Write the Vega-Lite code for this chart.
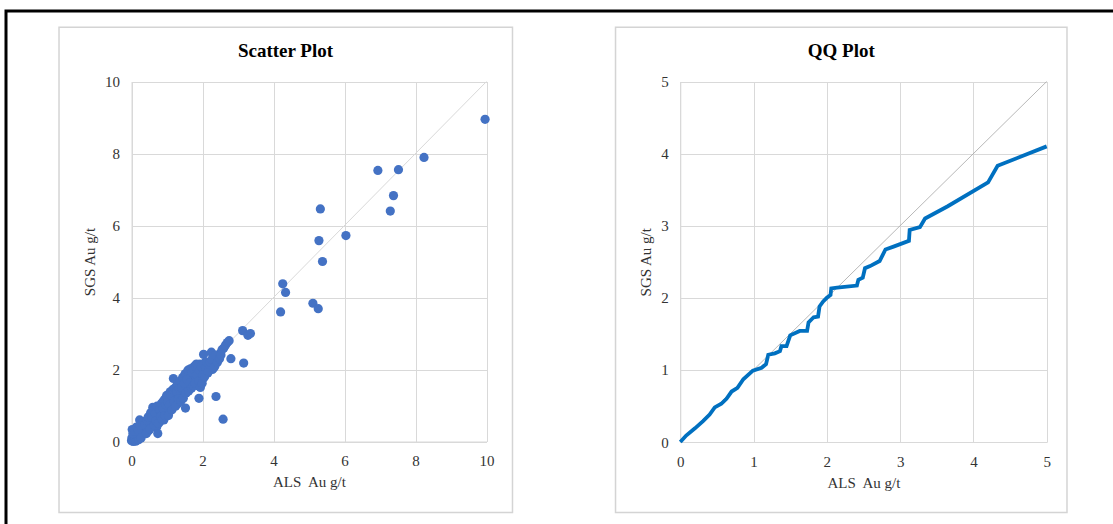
{
  "$schema": "https://vega.github.io/schema/vega-lite/v6.json",
  "width": 1107,
  "height": 513,
  "autosize": "none",
  "padding": {"left": 6, "top": 11, "right": 0, "bottom": 0},
  "background": "white",
  "config": {
    "view": {"stroke": "#000000", "strokeWidth": 3, "strokeDash": [1107, 1620, 513]},
    "axis": {
      "grid": true, "gridColor": "#d9d9d9", "gridWidth": 1,
      "domainColor": "#d9d9d9", "domainWidth": 1, "ticks": false,
      "labelFont": "Liberation Serif", "labelFontSize": 15, "labelColor": "#333333", "labelFlush": false,
      "titleFont": "Liberation Serif", "titleFontSize": 15, "titleFontWeight": "normal", "titleColor": "#333333"
    },
    "axisX": {"labelPadding": 12, "titlePadding": 6},
    "axisY": {"labelPadding": 12, "titlePadding": 7}
  },
  "datasets": {
    "scatter": [
      {"als":0.00,"sgs":0.02},{"als":0.01,"sgs":0.10},{"als":0.02,"sgs":0.33},{"als":0.03,"sgs":0.05},{"als":0.05,"sgs":0.00},
      {"als":0.06,"sgs":0.18},{"als":0.08,"sgs":0.03},{"als":0.10,"sgs":0.12},{"als":0.12,"sgs":0.01},{"als":0.13,"sgs":0.25},
      {"als":0.15,"sgs":0.08},{"als":0.17,"sgs":0.30},{"als":0.18,"sgs":0.15},{"als":0.20,"sgs":0.05},{"als":0.22,"sgs":0.22},
      {"als":0.23,"sgs":0.60},{"als":0.25,"sgs":0.35},{"als":0.26,"sgs":0.12},{"als":0.28,"sgs":0.28},{"als":0.30,"sgs":0.45},
      {"als":0.31,"sgs":0.20},{"als":0.33,"sgs":0.38},{"als":0.35,"sgs":0.52},{"als":0.36,"sgs":0.30},{"als":0.38,"sgs":0.25},
      {"als":0.40,"sgs":0.42},{"als":0.41,"sgs":0.55},{"als":0.43,"sgs":0.35},{"als":0.45,"sgs":0.62},{"als":0.46,"sgs":0.48},
      {"als":0.48,"sgs":0.30},{"als":0.50,"sgs":0.70},{"als":0.51,"sgs":0.52},{"als":0.53,"sgs":0.42},{"als":0.55,"sgs":0.60},
      {"als":0.56,"sgs":0.75},{"als":0.58,"sgs":0.50},{"als":0.60,"sgs":0.95},{"als":0.61,"sgs":0.66},{"als":0.63,"sgs":0.55},
      {"als":0.65,"sgs":0.80},{"als":0.66,"sgs":0.62},{"als":0.68,"sgs":0.95},{"als":0.70,"sgs":0.72},{"als":0.71,"sgs":0.40},
      {"als":0.73,"sgs":0.85},{"als":0.74,"sgs":0.22},{"als":0.75,"sgs":0.65},{"als":0.77,"sgs":0.92},{"als":0.78,"sgs":0.78},
      {"als":0.80,"sgs":0.55},{"als":0.81,"sgs":1.00},{"als":0.83,"sgs":0.84},{"als":0.85,"sgs":0.70},{"als":0.86,"sgs":0.95},
      {"als":0.88,"sgs":1.10},{"als":0.90,"sgs":0.80},{"als":0.91,"sgs":0.60},{"als":0.93,"sgs":1.05},{"als":0.95,"sgs":0.88},
      {"als":0.96,"sgs":1.20},{"als":0.98,"sgs":0.75},{"als":1.00,"sgs":1.00},{"als":1.01,"sgs":1.25},{"als":1.03,"sgs":0.90},
      {"als":1.05,"sgs":1.12},{"als":1.06,"sgs":0.82},{"als":1.08,"sgs":1.30},{"als":1.10,"sgs":1.00},{"als":1.11,"sgs":1.18},
      {"als":1.13,"sgs":0.95},{"als":1.15,"sgs":1.40},{"als":1.16,"sgs":1.08},{"als":1.18,"sgs":1.75},{"als":1.19,"sgs":1.22},
      {"als":1.21,"sgs":1.02},{"als":1.23,"sgs":1.35},{"als":1.25,"sgs":1.15},{"als":1.26,"sgs":1.50},{"als":1.28,"sgs":1.25},
      {"als":1.30,"sgs":1.05},{"als":1.31,"sgs":1.42},{"als":1.33,"sgs":1.30},{"als":1.35,"sgs":1.20},{"als":1.36,"sgs":1.55},
      {"als":1.38,"sgs":1.38},{"als":1.40,"sgs":1.25},{"als":1.42,"sgs":1.60},{"als":1.43,"sgs":1.45},{"als":1.45,"sgs":1.30},
      {"als":1.47,"sgs":1.70},{"als":1.48,"sgs":1.50},{"als":1.50,"sgs":1.38},{"als":1.52,"sgs":0.93},{"als":1.53,"sgs":1.80},
      {"als":1.55,"sgs":1.60},{"als":1.57,"sgs":1.45},{"als":1.58,"sgs":1.85},{"als":1.60,"sgs":1.68},{"als":1.62,"sgs":1.52},
      {"als":1.63,"sgs":1.90},{"als":1.65,"sgs":1.75},{"als":1.67,"sgs":1.58},{"als":1.68,"sgs":1.95},{"als":1.70,"sgs":1.80},
      {"als":1.72,"sgs":1.60},{"als":1.73,"sgs":2.05},{"als":1.75,"sgs":1.85},{"als":1.77,"sgs":1.70},{"als":1.78,"sgs":2.10},
      {"als":1.80,"sgs":1.90},{"als":1.82,"sgs":1.75},{"als":1.83,"sgs":2.15},{"als":1.85,"sgs":1.95},{"als":1.87,"sgs":1.55},
      {"als":1.88,"sgs":2.05},{"als":1.90,"sgs":1.20},{"als":1.91,"sgs":1.85},{"als":1.93,"sgs":2.15},{"als":1.95,"sgs":1.70},
      {"als":1.96,"sgs":2.00},{"als":1.98,"sgs":1.90},{"als":2.00,"sgs":2.10},{"als":2.02,"sgs":1.75},{"als":2.03,"sgs":2.42},
      {"als":2.05,"sgs":2.00},{"als":2.08,"sgs":2.20},{"als":2.10,"sgs":1.95},{"als":2.13,"sgs":2.10},{"als":2.15,"sgs":1.90},
      {"als":2.20,"sgs":2.05},{"als":2.25,"sgs":2.48},{"als":2.28,"sgs":2.00},{"als":2.30,"sgs":2.20},{"als":2.35,"sgs":2.10},
      {"als":2.38,"sgs":1.25},{"als":2.40,"sgs":2.30},{"als":2.45,"sgs":2.35},{"als":2.50,"sgs":2.45},{"als":2.55,"sgs":2.55},
      {"als":2.58,"sgs":0.62},{"als":2.60,"sgs":2.60},{"als":2.65,"sgs":2.68},{"als":2.70,"sgs":2.75},{"als":2.75,"sgs":2.80},
      {"als":2.80,"sgs":2.30},{"als":3.13,"sgs":3.08},{"als":3.16,"sgs":2.18},{"als":3.28,"sgs":2.95},{"als":3.35,"sgs":3.00},
      {"als":4.20,"sgs":3.60},{"als":4.26,"sgs":4.38},{"als":4.34,"sgs":4.14},{"als":5.11,"sgs":3.84},{"als":5.26,"sgs":3.69},
      {"als":5.28,"sgs":5.58},{"als":5.32,"sgs":6.46},{"als":5.38,"sgs":5.00},{"als":6.04,"sgs":5.72},{"als":6.94,"sgs":7.53},
      {"als":7.29,"sgs":6.40},{"als":7.38,"sgs":6.83},{"als":7.52,"sgs":7.55},{"als":8.24,"sgs":7.89},{"als":9.96,"sgs":8.95},
      {"als":0.04,"sgs":0.22},{"als":0.09,"sgs":0.28},{"als":0.14,"sgs":0.40},{"als":0.19,"sgs":0.32},{"als":0.24,"sgs":0.45},
      {"als":0.27,"sgs":0.10},{"als":0.32,"sgs":0.55},{"als":0.37,"sgs":0.48},{"als":0.42,"sgs":0.22},{"als":0.44,"sgs":0.58},
      {"als":0.47,"sgs":0.68},{"als":0.52,"sgs":0.35},{"als":0.54,"sgs":0.80},{"als":0.57,"sgs":0.68},{"als":0.62,"sgs":0.85},
      {"als":0.64,"sgs":0.45},{"als":0.67,"sgs":0.78},{"als":0.69,"sgs":0.58},{"als":0.72,"sgs":0.98},{"als":0.76,"sgs":0.50},
      {"als":0.79,"sgs":0.88},{"als":0.82,"sgs":0.70},{"als":0.84,"sgs":1.05},{"als":0.87,"sgs":0.62},{"als":0.89,"sgs":0.92},
      {"als":0.92,"sgs":1.15},{"als":0.94,"sgs":0.72},{"als":0.97,"sgs":1.02},{"als":0.99,"sgs":1.28},{"als":1.02,"sgs":1.10},
      {"als":1.04,"sgs":0.72},{"als":1.07,"sgs":1.02},{"als":1.09,"sgs":1.38},{"als":1.12,"sgs":1.28},{"als":1.14,"sgs":0.88},
      {"als":1.17,"sgs":1.45},{"als":1.20,"sgs":1.12},{"als":1.22,"sgs":1.48},{"als":1.24,"sgs":0.98},{"als":1.27,"sgs":1.38},
      {"als":1.29,"sgs":1.60},{"als":1.32,"sgs":1.18},{"als":1.34,"sgs":1.48},{"als":1.37,"sgs":1.68},{"als":1.39,"sgs":1.12},
      {"als":1.41,"sgs":1.50},{"als":1.44,"sgs":1.78},{"als":1.46,"sgs":1.20},{"als":1.49,"sgs":1.62},{"als":1.51,"sgs":1.88},
      {"als":1.54,"sgs":1.35},{"als":1.56,"sgs":1.72},{"als":1.59,"sgs":1.98},{"als":1.61,"sgs":1.40},{"als":1.64,"sgs":1.62},
      {"als":1.66,"sgs":2.02},{"als":1.69,"sgs":1.48},{"als":1.71,"sgs":1.92},{"als":1.74,"sgs":1.55},{"als":1.76,"sgs":2.00},
      {"als":1.79,"sgs":1.62},{"als":1.81,"sgs":2.08},{"als":1.84,"sgs":1.85},{"als":1.86,"sgs":2.12},{"als":1.89,"sgs":1.68},
      {"als":1.92,"sgs":1.98},{"als":1.94,"sgs":1.50},{"als":1.97,"sgs":2.08},{"als":1.99,"sgs":1.62},{"als":2.01,"sgs":1.85},
      {"als":2.04,"sgs":2.15},{"als":2.06,"sgs":1.80},{"als":2.09,"sgs":2.05},{"als":2.12,"sgs":2.20},{"als":2.16,"sgs":1.95},
      {"als":2.18,"sgs":2.15},{"als":2.22,"sgs":2.20},{"als":2.26,"sgs":2.28},{"als":2.32,"sgs":2.05},{"als":2.36,"sgs":2.40},
      {"als":2.42,"sgs":2.20},{"als":2.48,"sgs":2.30},{"als":2.52,"sgs":2.40}
    ],
    "qq": [
      {"als":0.00,"sgs":0.00},{"als":0.08,"sgs":0.09},{"als":0.20,"sgs":0.19},{"als":0.31,"sgs":0.29},{"als":0.40,"sgs":0.38},
      {"als":0.47,"sgs":0.48},{"als":0.56,"sgs":0.53},{"als":0.63,"sgs":0.60},{"als":0.70,"sgs":0.70},{"als":0.78,"sgs":0.75},
      {"als":0.86,"sgs":0.87},{"als":0.99,"sgs":0.99},{"als":1.11,"sgs":1.03},{"als":1.17,"sgs":1.08},{"als":1.20,"sgs":1.21},
      {"als":1.29,"sgs":1.23},{"als":1.36,"sgs":1.26},{"als":1.38,"sgs":1.33},{"als":1.45,"sgs":1.33},{"als":1.50,"sgs":1.48},
      {"als":1.63,"sgs":1.54},{"als":1.73,"sgs":1.54},{"als":1.75,"sgs":1.66},{"als":1.82,"sgs":1.73},{"als":1.88,"sgs":1.74},
      {"als":1.90,"sgs":1.88},{"als":1.95,"sgs":1.95},{"als":2.00,"sgs":2.00},{"als":2.05,"sgs":2.04},{"als":2.06,"sgs":2.13},
      {"als":2.14,"sgs":2.14},{"als":2.41,"sgs":2.17},{"als":2.43,"sgs":2.25},{"als":2.49,"sgs":2.28},{"als":2.52,"sgs":2.41},
      {"als":2.59,"sgs":2.44},{"als":2.72,"sgs":2.51},{"als":2.80,"sgs":2.67},{"als":2.91,"sgs":2.71},{"als":3.12,"sgs":2.79},
      {"als":3.13,"sgs":2.94},{"als":3.27,"sgs":2.98},{"als":3.34,"sgs":3.10},{"als":3.65,"sgs":3.27},{"als":4.20,"sgs":3.60},
      {"als":4.33,"sgs":3.83},{"als":5.00,"sgs":4.10}
    ],
    "one": [{}]
  },
  "layer": [
    {
      "resolve": {"axis": {"x": "independent"}},
      "layer": [
        {
          "data": {"name": "one"},
          "mark": {"type": "rect", "fill": null, "stroke": "#d4d4d4", "strokeWidth": 1.5},
          "encoding": {
            "x": {"datum": -2.042, "type": "quantitative", "axis": null},
            "x2": {"datum": 10.732},
            "y": {"datum": 11.506, "type": "quantitative"},
            "y2": {"datum": -1.972}
          }
        },
        {
          "data": {"name": "one"},
          "mark": {"type": "rule", "color": "#d9d9d9", "strokeWidth": 1},
          "encoding": {
            "x": {"datum": 0, "type": "quantitative",
              "axis": {"orient": "top", "offset": 0, "grid": true, "labels": false, "domain": false, "ticks": false, "title": null, "values": [0, 2, 4, 6, 8, 10]}},
            "x2": {"datum": 10},
            "y": {"datum": 0, "type": "quantitative"},
            "y2": {"datum": 10}
          }
        },
        {
          "data": {"name": "scatter"},
          "mark": {"type": "point", "filled": true, "color": "#4472C4", "opacity": 1, "size": 85},
          "encoding": {
            "x": {"field": "als", "type": "quantitative", "title": "ALS\u00a0 Au g/t",
              "scale": {"domain": [0, 10], "range": [125.5, 480.5], "nice": false, "zero": false},
              "axis": {"orient": "bottom", "offset": -82.5, "values": [0, 2, 4, 6, 8, 10], "format": "d", "grid": false}},
            "y": {"field": "sgs", "type": "quantitative", "title": "SGS Au g/t",
              "scale": {"domain": [0, 10], "range": [430.5, 70.5], "nice": false, "zero": false},
              "axis": {"orient": "left", "offset": -125.5, "values": [0, 2, 4, 6, 8, 10], "format": "d", "grid": true}}
          }
        },
        {
          "data": {"name": "one"},
          "mark": {"type": "text", "text": "Scatter Plot", "font": "Liberation Serif", "fontSize": 19, "fontWeight": "bold", "color": "#000000", "align": "center", "baseline": "middle"},
          "encoding": {
            "x": {"datum": 4.338, "type": "quantitative", "axis": null},
            "y": {"datum": 10.847, "type": "quantitative"}
          }
        }
      ]
    },
    {
      "resolve": {"axis": {"x": "independent"}},
      "layer": [
        {
          "data": {"name": "one"},
          "mark": {"type": "rect", "fill": null, "stroke": "#d4d4d4", "strokeWidth": 1.5},
          "encoding": {
            "x": {"datum": -0.884, "type": "quantitative", "axis": null},
            "x2": {"datum": 5.277},
            "y": {"datum": 5.752, "type": "quantitative"},
            "y2": {"datum": -0.978}
          }
        },
        {
          "data": {"name": "one"},
          "mark": {"type": "rule", "color": "#a6a6a6", "strokeWidth": 0.8},
          "encoding": {
            "x": {"datum": 0, "type": "quantitative",
              "axis": {"orient": "top", "offset": 0, "grid": true, "labels": false, "domain": false, "ticks": false, "title": null, "values": [0, 1, 2, 3, 4, 5]}},
            "x2": {"datum": 5},
            "y": {"datum": 0, "type": "quantitative"},
            "y2": {"datum": 5}
          }
        },
        {
          "data": {"name": "qq"},
          "mark": {"type": "line", "color": "#0070C0", "strokeWidth": 3.8},
          "encoding": {
            "x": {"field": "als", "type": "quantitative", "title": "ALS\u00a0 Au g/t",
              "scale": {"domain": [0, 5], "range": [674.3, 1040.7], "nice": false, "zero": false},
              "axis": {"orient": "bottom", "offset": -82, "values": [0, 1, 2, 3, 4, 5], "format": "d", "grid": false}},
            "y": {"field": "sgs", "type": "quantitative", "title": "SGS Au g/t",
              "scale": {"domain": [0, 5], "range": [431, 70.5], "nice": false, "zero": false},
              "axis": {"orient": "left", "offset": -674.3, "values": [0, 1, 2, 3, 4, 5], "format": "d", "grid": true}}
          }
        },
        {
          "data": {"name": "one"},
          "mark": {"type": "text", "text": "QQ Plot", "font": "Liberation Serif", "fontSize": 19, "fontWeight": "bold", "color": "#000000", "align": "center", "baseline": "middle"},
          "encoding": {
            "x": {"datum": 2.197, "type": "quantitative", "axis": null},
            "y": {"datum": 5.423, "type": "quantitative"}
          }
        }
      ]
    }
  ],
  "resolve": {
    "scale": {"x": "independent", "y": "independent"},
    "axis": {"x": "independent", "y": "independent"}
  }
}
